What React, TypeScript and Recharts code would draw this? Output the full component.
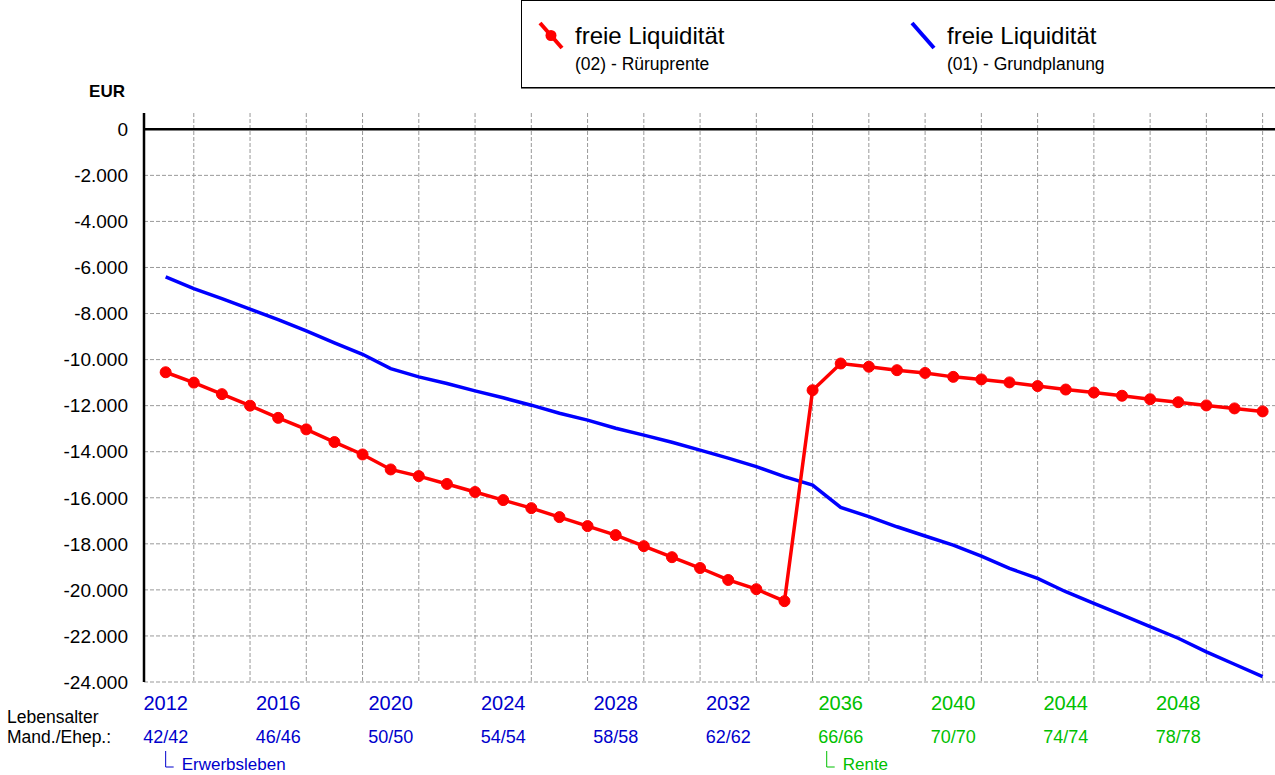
import { LineChart, Line, XAxis, YAxis, CartesianGrid, ReferenceLine, Legend } from "recharts";

const years = [
  2012, 2013, 2014, 2015, 2016, 2017, 2018, 2019, 2020, 2021,
  2022, 2023, 2024, 2025, 2026, 2027, 2028, 2029, 2030, 2031,
  2032, 2033, 2034, 2035, 2036, 2037, 2038, 2039, 2040, 2041,
  2042, 2043, 2044, 2045, 2046, 2047, 2048, 2049, 2050, 2051,
];

// freie Liquidität (02) - Rüruprente
const ruerup = [
  -10550, -11000, -11500, -12000, -12530, -13030, -13580, -14120, -14770, -15060,
  -15400, -15750, -16100, -16450, -16840, -17230, -17620, -18100, -18580, -19050,
  -19570, -19970, -20490, -11330, -10170, -10310, -10460, -10580, -10750, -10860,
  -10990, -11150, -11300, -11430, -11570, -11720, -11850, -11990, -12120, -12250,
];

// freie Liquidität (01) - Grundplanung
const grund = [
  -6410, -6920, -7350, -7810, -8260, -8750, -9270, -9770, -10390, -10750,
  -11040, -11360, -11660, -11980, -12330, -12630, -12980, -13280, -13590, -13930,
  -14280, -14650, -15080, -15450, -16420, -16820, -17260, -17660, -18060, -18530,
  -19070, -19500, -20080, -20590, -21090, -21600, -22100, -22690, -23230, -23770,
];

const xTicks = [2012, 2016, 2020, 2024, 2028, 2032, 2036, 2040, 2044, 2048];
const ageLabels = ["42/42", "46/46", "50/50", "54/54", "58/58", "62/62", "66/66", "70/70", "74/74", "78/78"];
const yTicks = [0, -2000, -4000, -6000, -8000, -10000, -12000, -14000, -16000, -18000, -20000, -22000, -24000];

const BLUE_TXT = "#0000cc";
const GREEN_TXT = "#00c000";
const RENTE_START = 2035;

const phases = [
  { year: 2012, label: "Erwerbsleben", color: BLUE_TXT, dx: 0 },
  { year: 2036, label: "Rente", color: GREEN_TXT, dx: -14 },
];

const series = [
  { key: "ruerup", color: "#ff0000", title: "freie Liquidität", sub: "(02) - Rüruprente", dot: true },
  { key: "grund", color: "#0000ff", title: "freie Liquidität", sub: "(01) - Grundplanung", dot: false },
];

const data = years.map((year, i) => ({ year, ruerup: ruerup[i], grund: grund[i] }));

const fmtEur = (v: number) => {
  if (v === 0) return "0";
  const s = Math.abs(v).toString().replace(/\B(?=(\d{3})+(?!\d))/g, ".");
  return (v < 0 ? "-" : "") + s;
};

const XTick = (props: any) => {
  const { x, y, payload } = props;
  const i = xTicks.indexOf(payload.value);
  const color = payload.value >= RENTE_START ? GREEN_TXT : BLUE_TXT;
  const phase = phases.find((p) => p.year === payload.value);
  return (
    <g>
      <text x={x} y={y + 28} textAnchor="middle" fontSize={20} fill={color}>
        {payload.value}
      </text>
      <text x={x} y={y + 61} textAnchor="middle" fontSize={18} fill={color}>
        {ageLabels[i]}
      </text>
      {phase && (
        <g>
          <path
            d={`M${x + phase.dx},${y + 69} V${y + 85} H${x + phase.dx + 8}`}
            stroke={phase.color}
            strokeWidth={1}
            fill="none"
          />
          <text x={x + phase.dx + 16} y={y + 88} fontSize={17} fill={phase.color}>
            {phase.label}
          </text>
        </g>
      )}
    </g>
  );
};

const LegendBox = () => (
  <div
    style={{
      boxSizing: "border-box",
      width: 770,
      height: 88,
      border: "1px solid #000",
      boxShadow: "0 1px 0 #777",
      background: "#fff",
      position: "relative",
    }}
  >
    {series.map((s, i) => (
      <div key={s.key} style={{ position: "absolute", left: 8 + i * 372, top: 0 }}>
        <svg width={44} height={60} style={{ position: "absolute", left: 0, top: 0 }}>
          <line x1={10} y1={22} x2={32} y2={47} stroke={s.color} strokeWidth={4} />
          {s.dot && <circle cx={21} cy={34.5} r={5.5} fill={s.color} />}
        </svg>
        <div style={{ position: "absolute", left: 45, top: 21, fontSize: 24, whiteSpace: "nowrap", lineHeight: "28px" }}>
          {s.title}
        </div>
        <div style={{ position: "absolute", left: 45, top: 54, fontSize: 17.5, whiteSpace: "nowrap", lineHeight: "19px" }}>
          {s.sub}
        </div>
      </div>
    ))}
  </div>
);

export default function App() {
  return (
    <div
      style={{
        position: "absolute",
        left: 0,
        top: 0,
        width: 1275,
        height: 775,
        overflow: "hidden",
        background: "#fff",
        fontFamily: "'Liberation Sans', Arial, sans-serif",
      }}
    >
      <LineChart width={1275} height={775} data={data} margin={{ top: 113, right: 0, bottom: 0, left: 0 }}>
        <CartesianGrid
          stroke="#999"
          strokeDasharray="4 2"
          horizontalValues={yTicks}
          verticalValues={years}
        />
        <XAxis
          dataKey="year"
          type="number"
          domain={[2011.23, 2051.44]}
          ticks={xTicks}
          allowDataOverflow
          axisLine={false}
          tickLine={false}
          tickSize={0}
          tickMargin={0}
          height={93}
          tick={<XTick />}
        />
        <YAxis
          type="number"
          domain={[-24000, 708]}
          ticks={yTicks}
          allowDataOverflow
          width={144}
          axisLine={{ stroke: "#000", strokeWidth: 2.5 }}
          tickLine={false}
          tickSize={6}
          tickMargin={10}
          tickFormatter={fmtEur}
          tick={{ fontSize: 19, fill: "#000" }}
        />
        <ReferenceLine y={0} stroke="#000" strokeWidth={2.5} />
        <Legend
          layout="vertical"
          align="center"
          verticalAlign="middle"
          wrapperStyle={{ left: 521, top: 0, width: 770, height: 88 }}
          content={<LegendBox />}
        />
        <Line
          dataKey="grund"
          stroke="#0000ff"
          strokeWidth={3.5}
          dot={false}
          activeDot={false}
          isAnimationActive={false}
        />
        <Line
          dataKey="ruerup"
          stroke="#ff0000"
          strokeWidth={3.5}
          dot={{ r: 5.5, fill: "#ff0000", stroke: "#ff0000", strokeWidth: 1 }}
          activeDot={false}
          isAnimationActive={false}
        />
      </LineChart>
      <svg
        width={1275}
        height={775}
        style={{ position: "absolute", left: 0, top: 0, pointerEvents: "none" }}
      >
        <text x={125} y={97} textAnchor="end" fontSize={17} fontWeight="bold">
          EUR
        </text>
        <text x={7} y={723} fontSize={17.5}>
          Lebensalter
        </text>
        <text x={7} y={743} fontSize={17.5}>
          Mand./Ehep.:
        </text>
      </svg>
    </div>
  );
}
